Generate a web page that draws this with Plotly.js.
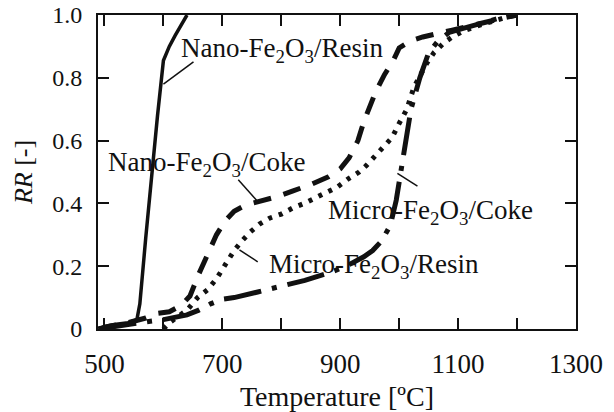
<!DOCTYPE html>
<html>
<head>
<meta charset="utf-8">
<script src="https://cdn.plot.ly/plotly-3.0.1.min.js"></script>
<style>
html,body{margin:0;padding:0;background:#fff;}
#chart{width:614px;height:412px;}
</style>
</head>
<body>
<div id="chart"></div>
<script>
// Temperature [ºC] and reduction ratio RR [-]
const nanoResinT = [490, 500, 520, 540, 555, 560, 570, 580, 590, 600, 610, 620, 630, 640];
const nanoResinRR = [0.0, 0.008, 0.015, 0.02, 0.03, 0.08, 0.29, 0.5, 0.68, 0.855, 0.9, 0.935, 0.968, 1.0];

const nanoCokeT = [490, 510, 540, 570, 590, 610, 630, 645, 660, 675, 690, 705, 720, 740, 760, 790, 820, 850, 880, 900, 915, 930, 940, 950, 960, 975, 990, 1000, 1020, 1040, 1060, 1090, 1120, 1150, 1180, 1200];
const nanoCokeRR = [0.0, 0.01, 0.02, 0.035, 0.05, 0.055, 0.075, 0.105, 0.175, 0.24, 0.30, 0.345, 0.375, 0.395, 0.405, 0.42, 0.44, 0.46, 0.485, 0.51, 0.545, 0.6, 0.66, 0.71, 0.755, 0.81, 0.855, 0.895, 0.918, 0.93, 0.94, 0.952, 0.965, 0.98, 0.992, 1.0];

const microResinT = [600, 610, 625, 640, 658, 675, 690, 700, 712, 720, 733, 748, 763, 780, 800, 819, 839, 861, 878, 895, 915, 932, 944, 961, 975, 988, 1000, 1013, 1025, 1037, 1047, 1059, 1075, 1090, 1110, 1140, 1170, 1195];
const microResinRR = [0.0, 0.02, 0.04, 0.06, 0.10, 0.125, 0.16, 0.19, 0.22, 0.25, 0.28, 0.31, 0.334, 0.353, 0.366, 0.385, 0.40, 0.42, 0.436, 0.452, 0.48, 0.50, 0.52, 0.554, 0.586, 0.61, 0.655, 0.70, 0.77, 0.815, 0.847, 0.88, 0.91, 0.93, 0.95, 0.97, 0.985, 1.0];

const microCokeT = [490, 520, 560, 600, 640, 660, 680, 700, 720, 760, 800, 840, 880, 910, 940, 955, 970, 985, 995, 1002, 1010, 1020, 1035, 1050, 1065, 1085, 1110, 1140, 1170, 1200];
const microCokeRR = [0.0, 0.01, 0.02, 0.03, 0.045, 0.06, 0.08, 0.095, 0.10, 0.118, 0.135, 0.155, 0.178, 0.20, 0.23, 0.25, 0.28, 0.33, 0.41, 0.49, 0.58, 0.70, 0.80, 0.88, 0.915, 0.945, 0.958, 0.975, 0.99, 1.0];

const xTickVals = [500, 700, 900, 1100, 1300];
const xTickText = ['500', '700', '900', '1100', '1300'];
const yTickVals = [0, 0.2, 0.4, 0.6, 0.8, 1.0];
const yTickText = ['0', '0.2', '0.4', '0.6', '0.8', '1.0'];

const labelNanoResin = 'Nano-Fe<sub>2</sub>O<sub>3</sub>/Resin';
const labelNanoCoke = 'Nano-Fe<sub>2</sub>O<sub>3</sub>/Coke';
const labelMicroCoke = 'Micro-Fe<sub>2</sub>O<sub>3</sub>/Coke';
const labelMicroResin = 'Micro-Fe<sub>2</sub>O<sub>3</sub>/Resin';

const serif = 'Liberation Serif';
const ink = '#111';

const traces = [
  {x: nanoResinT, y: nanoResinRR, mode: 'lines', name: 'Nano-Fe2O3/Resin',
   line: {color: ink, width: 3.5, dash: 'solid'}},
  {x: nanoCokeT, y: nanoCokeRR, mode: 'lines', name: 'Nano-Fe2O3/Coke',
   line: {color: ink, width: 5, dash: '18px,13px'}},
  {x: microResinT, y: microResinRR, mode: 'lines', name: 'Micro-Fe2O3/Resin',
   line: {color: ink, width: 5, dash: '4px,7px'}},
  {x: microCokeT, y: microCokeRR, mode: 'lines', name: 'Micro-Fe2O3/Coke',
   line: {color: ink, width: 5, dash: '38px,11px,5px,11px'}}
];

const annFont = {family: serif, size: 27, color: ink};
const layout = {
  width: 614, height: 412,
  margin: {l: 98, r: 38, t: 15, b: 83},
  paper_bgcolor: '#fff', plot_bgcolor: '#fff',
  showlegend: false,
  font: {family: serif, size: 24, color: ink},
  xaxis: {
    range: [489, 1300], tickmode: 'array', tickvals: xTickVals, ticktext: xTickText,
    ticks: 'inside', ticklen: 11, tickwidth: 2, tickcolor: ink,
    minor: {tick0: 500, dtick: 100, ticks: 'inside', ticklen: 11, tickwidth: 2, tickcolor: ink, showgrid: false},
    showline: true, linewidth: 2, linecolor: ink, mirror: 'allticks',
    showgrid: false, zeroline: false, automargin: false,
    ticklabelstandoff: 10,
    tickfont: {family: serif, size: 27, color: ink},
    title: {text: 'Temperature [ºC]', font: {family: serif, size: 28, color: ink}, standoff: 10}
  },
  yaxis: {
    range: [0, 1.0], tickmode: 'array', tickvals: yTickVals, ticktext: yTickText,
    ticks: 'inside', ticklen: 11, tickwidth: 2, tickcolor: ink,
    showline: true, linewidth: 2, linecolor: ink, mirror: 'ticks',
    showgrid: false, zeroline: false, automargin: false,
    ticklabelstandoff: 9,
    tickfont: {family: serif, size: 24, color: ink},
    title: {text: '<i>RR</i> [-]', font: {family: serif, size: 26, color: ink}, standoff: 12}
  },
  annotations: [
    {x: 627, y: 0.889, xref: 'x', yref: 'y', text: labelNanoResin, showarrow: false, xanchor: 'left', yanchor: 'middle', font: annFont},
    {x: 503, y: 0.525, xref: 'x', yref: 'y', text: labelNanoCoke, showarrow: false, xanchor: 'left', yanchor: 'middle', font: annFont},
    {x: 876, y: 0.373, xref: 'x', yref: 'y', text: labelMicroCoke, showarrow: false, xanchor: 'left', yanchor: 'middle', font: annFont},
    {x: 776, y: 0.20, xref: 'x', yref: 'y', text: labelMicroResin, showarrow: false, xanchor: 'left', yanchor: 'middle', font: annFont}
  ],
  shapes: [
    {type: 'line', xref: 'x', yref: 'y', x0: 651, y0: 0.851, x1: 600, y1: 0.78, line: {color: ink, width: 1.5}},
    {type: 'line', xref: 'x', yref: 'y', x0: 727, y0: 0.475, x1: 758, y1: 0.41, line: {color: ink, width: 1.5}},
    {type: 'line', xref: 'x', yref: 'y', x0: 997, y0: 0.496, x1: 1031, y1: 0.455, line: {color: ink, width: 1.5}},
    {type: 'line', xref: 'x', yref: 'y', x0: 729, y0: 0.252, x1: 760, y1: 0.214, line: {color: ink, width: 1.5}}
  ]
};

Plotly.newPlot('chart', traces, layout, {displayModeBar: false});
</script>
</body>
</html>
